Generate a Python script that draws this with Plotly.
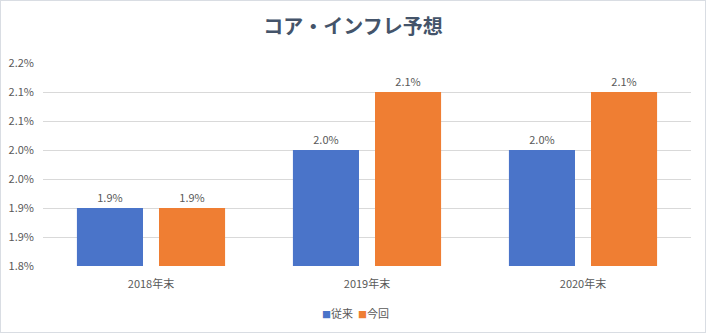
import plotly.graph_objects as go

categories = ["2018年末", "2019年末", "2020年末"]
series_names = ["従来", "今回"]
prev_values = [1.9, 2.0, 2.0]
curr_values = [1.9, 2.1, 2.1]
tick_values = [1.80, 1.85, 1.90, 1.95, 2.00, 2.05, 2.10, 2.15]
tick_labels = ["1.8%", "1.9%", "1.9%", "2.0%", "2.0%", "2.1%", "2.1%", "2.2%"]

font_family = "Noto Sans CJK JP, Noto Sans, sans-serif"
text_color = "#595959"
colors = ["#4A74C9", "#EF7E33"]

fig = go.Figure()
for name, vals, col in zip(series_names, [prev_values, curr_values], colors):
    fig.add_trace(go.Bar(
        x=categories, y=vals, name=name,
        marker=dict(color=col, line=dict(width=0)),
        text=[f"{v:.1f}%" for v in vals], textposition="outside",
        textfont=dict(size=11, color=text_color, family=font_family),
        cliponaxis=False,
    ))

legend_text = "&nbsp;&nbsp;".join(
    f"<span style='color:{c};font-size:9px'>■</span>{n}" for n, c in zip(series_names, colors)
)

fig.update_layout(
    width=706, height=333,
    margin=dict(l=43, r=15, t=63, b=67, autoexpand=False),
    paper_bgcolor="white", plot_bgcolor="white",
    barmode="group", bargap=0.24, bargroupgap=0.195,
    font=dict(family=font_family, size=11, color=text_color),
    title=dict(text="<b>コア・インフレ予想</b>", x=0.5, xanchor="center",
               y=1 - 27 / 333, yanchor="middle",
               font=dict(size=20, color="#44546A", family=font_family)),
    showlegend=False,
    annotations=[dict(text=legend_text, xref="paper", yref="paper",
                      x=0.5 + (355 - 367) / 648, xanchor="center",
                      y=(266 - 313) / 203, yanchor="middle", showarrow=False,
                      font=dict(size=11, color=text_color, family=font_family))],
    shapes=[dict(type="rect", xref="paper", yref="paper",
                 x0=-43 / 648, x1=1 + 15 / 648, y0=-67 / 203, y1=1 + 63 / 203,
                 line=dict(color="#D9DDE3", width=2), layer="above")],
)
fig.update_xaxes(showgrid=False, showline=False, ticks="", ticklabelstandoff=10,
                 tickfont=dict(size=11, color=text_color))
fig.update_yaxes(range=[1.8, 2.15], tickvals=tick_values, ticktext=tick_labels,
                 showgrid=True, gridcolor="#D9D9D9", gridwidth=1,
                 zeroline=False, showline=False, ticks="",
                 ticklabelstandoff=8,
                 tickfont=dict(size=11, color=text_color))

fig.write_html("out.html")
